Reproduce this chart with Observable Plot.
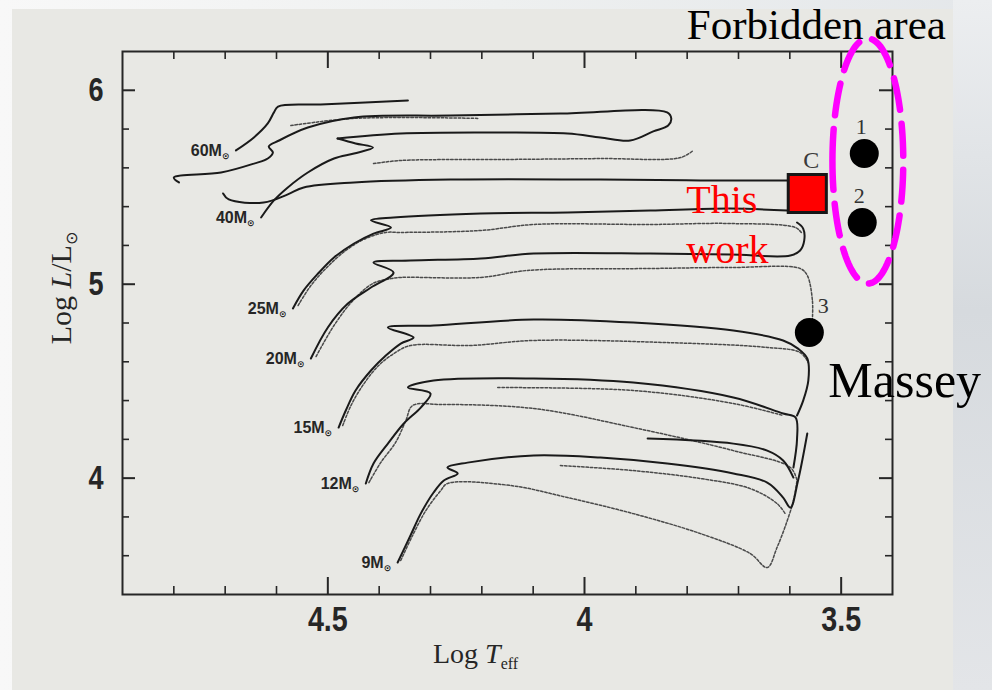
<!DOCTYPE html>
<html>
<head>
<meta charset="utf-8">
<script src="https://cdn.jsdelivr.net/npm/d3@7"></script>
<script src="https://cdn.jsdelivr.net/npm/@observablehq/plot@0.6"></script>
<style>
  html, body { margin: 0; padding: 0; }
  body { width: 992px; height: 690px; overflow: hidden; position: relative;
         background: linear-gradient(90deg, #f8f8f8 0%, #eef0f0 50%, #e4e7ea 100%); }
  #side { position: absolute; left: 953px; top: 0; width: 39px; height: 690px;
          background: linear-gradient(180deg, #eceef0 0%, #d6dade 45%, #e3e5e8 100%); }
  #panel { position: absolute; left: 12px; top: 9px; width: 941px; height: 681px; background: #e8e8e4; }
  #chart { position: absolute; left: 0; top: 0; }
</style>
</head>
<body>
<div id="side"></div>
<div id="panel"></div>
<div id="chart"></div>
<script>
// Axis ticks
const teffMajor = [4.5, 4, 3.5];
const teffMinor = [4.8, 4.7, 4.6, 4.4, 4.3, 4.2, 4.1, 3.9, 3.8, 3.7, 3.6];
const lumMajor = [4, 5, 6];
const lumMinor = [3.6, 3.8, 4.2, 4.4, 4.6, 4.8, 5.2, 5.4, 5.6, 5.8];

// Evolutionary tracks, [log Teff, log L/Lsun]
const track60Main = [[4.679,5.690],[4.644,5.757],[4.617,5.829],[4.605,5.886],[4.597,5.916],[4.514,5.927],[4.344,5.947]];
const track60Loop = [[4.790,5.525],[4.800,5.550],[4.708,5.576],[4.644,5.622],[4.617,5.648],[4.607,5.679],[4.615,5.710],[4.595,5.741],[4.539,5.808],[4.449,5.860],[4.261,5.870],[4.047,5.880],[3.839,5.886],[3.831,5.855],[3.837,5.818],[3.866,5.788],[3.911,5.741],[3.969,5.757],[4.033,5.777],[4.163,5.782],[4.358,5.777],[4.481,5.751]];
const track60Dot = [[4.411,5.622],[4.358,5.638],[4.163,5.643],[3.969,5.648],[3.813,5.653],[3.788,5.690]];
const track60DotUpper = [[4.572,5.818],[4.449,5.855],[4.208,5.855]];
const track40Main = [[4.630,5.344],[4.605,5.432],[4.578,5.499],[4.539,5.576],[4.488,5.648],[4.449,5.674],[4.412,5.705],[4.446,5.726],[4.481,5.751]];
const track40Alt = [[4.704,5.468],[4.693,5.437],[4.625,5.421],[4.578,5.463],[4.547,5.499],[4.449,5.525],[4.261,5.540],[3.969,5.540],[3.774,5.535],[3.605,5.535]];
const track25Main = [[4.568,4.875],[4.547,4.968],[4.519,5.055],[4.488,5.138],[4.449,5.210],[4.411,5.261],[4.377,5.292],[4.416,5.329],[4.372,5.344],[4.202,5.365],[4.033,5.370],[3.872,5.380],[3.716,5.390],[3.605,5.380]];
const track25Dot = [[4.558,4.890],[4.533,4.993],[4.504,5.081],[4.465,5.174],[4.426,5.236],[4.387,5.267],[4.358,5.267],[4.202,5.277],[4.099,5.308],[3.872,5.308],[3.716,5.313],[3.589,5.292],[3.576,5.261]];
const track20Main = [[4.533,4.617],[4.500,4.777],[4.461,4.900],[4.416,4.983],[4.372,5.060],[4.411,5.112],[4.339,5.122],[4.202,5.133],[4.099,5.158],[3.872,5.158],[3.716,5.153],[3.599,5.148],[3.580,5.174],[3.572,5.225],[3.574,5.287],[3.586,5.318]];
const track20Dot = [[4.523,4.627],[4.488,4.787],[4.451,4.916],[4.412,5.004],[4.377,5.029],[4.358,5.035],[4.202,5.035],[4.111,5.071],[3.872,5.081],[3.716,5.086],[3.580,5.081],[3.566,5.045],[3.556,4.916],[3.556,4.823]];
const track15Main = [[4.479,4.261],[4.465,4.349],[4.446,4.452],[4.416,4.555],[4.387,4.632],[4.358,4.694],[4.333,4.725],[4.383,4.777],[4.294,4.787],[4.099,4.818],[3.905,4.802],[3.710,4.761],[3.613,4.710],[3.584,4.668],[3.566,4.617],[3.564,4.503],[3.574,4.400],[3.586,4.323]];
const track15Dot = [[4.471,4.271],[4.455,4.374],[4.432,4.478],[4.401,4.581],[4.368,4.648],[4.339,4.684],[4.222,4.684],[4.099,4.710],[3.839,4.699],[3.644,4.674],[3.580,4.648],[3.564,4.596]];
const track12Main = [[4.426,3.972],[4.411,4.075],[4.383,4.178],[4.352,4.282],[4.319,4.364],[4.300,4.436],[4.344,4.467],[4.294,4.503],[4.099,4.514],[3.905,4.493],[3.710,4.416],[3.613,4.333],[3.589,4.313],[3.586,4.200],[3.593,4.055]];
const track12Loop = [[3.877,4.204],[3.710,4.178],[3.644,4.142],[3.613,4.091],[3.593,4.003]];
const track12Dot = [[4.420,3.977],[4.397,4.080],[4.368,4.184],[4.348,4.297],[4.335,4.374],[4.280,4.380],[4.099,4.359],[3.905,4.261],[3.710,4.142],[3.599,4.055],[3.586,3.988]];
const track12DotUpper = [[4.169,4.467],[3.905,4.452],[3.710,4.385],[3.613,4.323]];
const track9Main = [[4.364,3.565],[4.339,3.704],[4.319,3.817],[4.294,3.926],[4.274,3.988],[4.247,4.024],[4.267,4.055],[4.228,4.080],[4.099,4.117],[3.969,4.106],[3.839,4.075],[3.710,4.024],[3.644,3.977],[3.613,3.900],[3.599,3.848],[3.584,3.988],[3.566,4.230]];
const track9Dot = [[4.358,3.575],[4.335,3.704],[4.309,3.833],[4.280,3.936],[4.267,3.972],[4.144,3.962],[4.033,3.900],[3.905,3.817],[3.774,3.714],[3.677,3.611],[3.644,3.539],[3.625,3.642],[3.605,3.781],[3.593,3.884],[3.586,3.988]];
const track9DotLoop = [[4.047,4.065],[3.905,4.039],[3.774,3.998],[3.677,3.946],[3.625,3.869],[3.609,3.817]];

// Initial masses, labelled at the start of each main track
const massNames = ["60", "40", "25", "20", "15", "12", "9"];
const massTracks = [track60Main, track40Main, track25Main, track20Main, track15Main, track12Main, track9Main];

// Red supergiants (Massey) and this work's star C
const masseyIds = ["1", "2", "3"];
const masseyLogTeff = [3.455, 3.459, 3.562];
const masseyLogL = [5.674, 5.318, 4.751];
const starCLogTeff = 3.566;
const starCLogL = 5.468;

// Forbidden region outline (centre and semi-axes in log Teff / log L)
const forbidCenter = [3.448, 5.635];
const forbidRadii = [0.069, 0.632];

const solidTracks = [track60Main, track60Loop, track40Main, track40Alt, track25Main, track20Main,
                     track15Main, track12Main, track12Loop, track9Main];
const dottedTracks = [track60Dot, track60DotUpper, track25Dot, track20Dot, track15Dot,
                      track12Dot, track12DotUpper, track9Dot, track9DotLoop];

const toRows = (list) => list.flatMap((pts, i) => pts.map(([t, l]) => ({id: i, logTeff: t, logL: l})));
const solidRows = toRows(solidTracks);
const dottedRows = toRows(dottedTracks);

const massLabels = massNames.map((m, i) => ({mass: m, logTeff: massTracks[i][0][0], logL: massTracks[i][0][1]}));
const massey = masseyIds.map((id, i) => ({id, logTeff: masseyLogTeff[i], logL: masseyLogL[i]}));
const starC = [{logTeff: starCLogTeff, logL: starCLogL}];
const outline = d3.range(0, 361, 3).map(a => ({
  logTeff: forbidCenter[0] + forbidRadii[0] * Math.cos(a * Math.PI / 180),
  logL: forbidCenter[1] + forbidRadii[1] * Math.sin(a * Math.PI / 180)
}));

const W = 992, H = 690, ML = 122, MR = 100, MT = 51, MB = 96;
const innerW = W - ML - MR, innerH = H - MT - MB;
const INK = "#262626";
const SANS = "'Liberation Sans', Arial, sans-serif";
const SERIF = "'Liberation Serif', 'DejaVu Serif', serif";

const plot = Plot.plot({
  width: W, height: H,
  marginLeft: ML, marginRight: MR, marginTop: MT, marginBottom: MB,
  style: {background: "transparent"},
  x: {domain: [4.9, 3.4]},
  y: {domain: [3.4, 6.2]},
  marks: [
    // tracks
    Plot.line(dottedRows, {x: "logTeff", y: "logL", z: "id", stroke: "#4a4a4a", strokeWidth: 1.5,
      strokeDasharray: "2.5,1.8", curve: "catmull-rom"}),
    Plot.line(solidRows, {x: "logTeff", y: "logL", z: "id", stroke: "#1a1a1a", strokeWidth: 2,
      curve: "catmull-rom"}),
    // frame and inward ticks on all four sides
    Plot.frame({stroke: INK, strokeWidth: 2}),
    Plot.ruleX(teffMajor, {x: d => d, stroke: INK, strokeWidth: 2, insetTop: innerH - 17}),
    Plot.ruleX(teffMinor, {x: d => d, stroke: INK, strokeWidth: 1.6, insetTop: innerH - 8}),
    Plot.ruleX(teffMajor, {x: d => d, stroke: INK, strokeWidth: 2, insetBottom: innerH - 17}),
    Plot.ruleX(teffMinor, {x: d => d, stroke: INK, strokeWidth: 1.6, insetBottom: innerH - 8}),
    Plot.ruleY(lumMajor, {y: d => d, stroke: INK, strokeWidth: 2, insetRight: innerW - 13}),
    Plot.ruleY(lumMinor, {y: d => d, stroke: INK, strokeWidth: 1.6, insetRight: innerW - 7}),
    Plot.ruleY(lumMajor, {y: d => d, stroke: INK, strokeWidth: 2, insetLeft: innerW - 13}),
    Plot.ruleY(lumMinor, {y: d => d, stroke: INK, strokeWidth: 1.6, insetLeft: innerW - 7}),
    Plot.axisX({ticks: teffMajor, tickSize: 0, tickPadding: 12, tickFormat: d => String(d), label: null,
      fontSize: 35, fontWeight: "bold", fontFamily: SANS, fill: INK}),
    Plot.axisY({ticks: lumMajor, tickSize: 0, tickPadding: 19, tickFormat: d => String(d), label: null,
      fontSize: 33, fontWeight: "bold", fontFamily: SANS, fill: INK}),
    // mass labels
    Plot.text(massLabels, {x: "logTeff", y: "logL", text: d => d.mass + "M", textAnchor: "end",
      dx: -14, dy: 0, fontSize: 16, fontWeight: "bold", fontFamily: SANS, fill: INK}),
    Plot.text(massLabels, {x: "logTeff", y: "logL", text: () => "⊙", textAnchor: "start",
      dx: -14, dy: 6, fontSize: 9, fontWeight: "bold", fontFamily: "DejaVu Sans", fill: INK}),
    // forbidden area outline
    Plot.line(outline, {x: "logTeff", y: "logL", stroke: "#ff00ff", strokeWidth: 6.5,
      strokeDasharray: "32,14"}),
    Plot.text([{logTeff: forbidCenter[0], logL: forbidCenter[1]}], {x: "logTeff", y: "logL",
      text: () => "Forbidden area", textAnchor: "end", lineAnchor: "bottom", dx: 78, dy: -122,
      fontSize: 43, fontFamily: SERIF, fill: "#000"}),
    // Massey red supergiants
    Plot.dot(massey, {x: "logTeff", y: "logL", r: 14.5, fill: "#000"}),
    Plot.text(massey.filter(d => d.id !== "3"), {x: "logTeff", y: "logL", text: "id", dx: -3, dy: -27,
      fontSize: 22, fontFamily: SERIF, fill: "#333"}),
    Plot.text(massey.filter(d => d.id === "3"), {x: "logTeff", y: "logL", text: "id", dx: 14, dy: -27,
      fontSize: 22, fontFamily: SERIF, fill: "#333"}),
    Plot.text(massey.filter(d => d.id === "3"), {x: "logTeff", y: "logL", text: () => "Massey",
      textAnchor: "start", lineAnchor: "bottom", dx: 19, dy: 64, fontSize: 50, fontFamily: SERIF, fill: "#000"}),
    // this work: star C
    Plot.dot(starC, {x: "logTeff", y: "logL", symbol: "square", r: 21.5, fill: "#ff0000",
      stroke: "#161616", strokeWidth: 3}),
    Plot.text(starC, {x: "logTeff", y: "logL", text: () => "C", dx: 4, dy: -33,
      fontSize: 24, fontFamily: SERIF, fill: "#3a3a3a"}),
    Plot.text(starC, {x: "logTeff", y: "logL", text: () => "This\nwork", textAnchor: "start",
      lineAnchor: "bottom", lineHeight: 1.25, dx: -121, dy: 70, fontSize: 40, fontFamily: SERIF, fill: "#ff0000"})
  ]
});

document.getElementById("chart").appendChild(plot);

const svg = d3.select(plot);

// Narrow the tick numerals horizontally
svg.selectAll('g[aria-label="x-axis tick label"] text, g[aria-label="y-axis tick label"] text')
  .attr("transform", function() {
    const t = this.getAttribute("transform") || "";
    return t + " scale(0.82,1)";
  });

// Axis titles with italic symbols and subscripts
const xt = svg.append("text")
  .attr("x", 433).attr("y", 663).attr("text-anchor", "start")
  .attr("font-family", SERIF).attr("font-size", 28).attr("fill", INK);
xt.append("tspan").text("Log ");
xt.append("tspan").attr("font-style", "italic").text("T");
xt.append("tspan").attr("font-size", 16).attr("dy", 6).text("eff");

const yt = svg.append("text")
  .attr("transform", "translate(71,288) rotate(-90)")
  .attr("text-anchor", "middle")
  .attr("font-family", SERIF).attr("font-size", 30).attr("fill", INK);
yt.append("tspan").text("Log ");
yt.append("tspan").attr("font-style", "italic").text("L");
yt.append("tspan").text("/L");
yt.append("tspan").attr("font-size", 16).attr("dy", 6).attr("font-family", "DejaVu Sans").text("⊙");
</script>
</body>
</html>
